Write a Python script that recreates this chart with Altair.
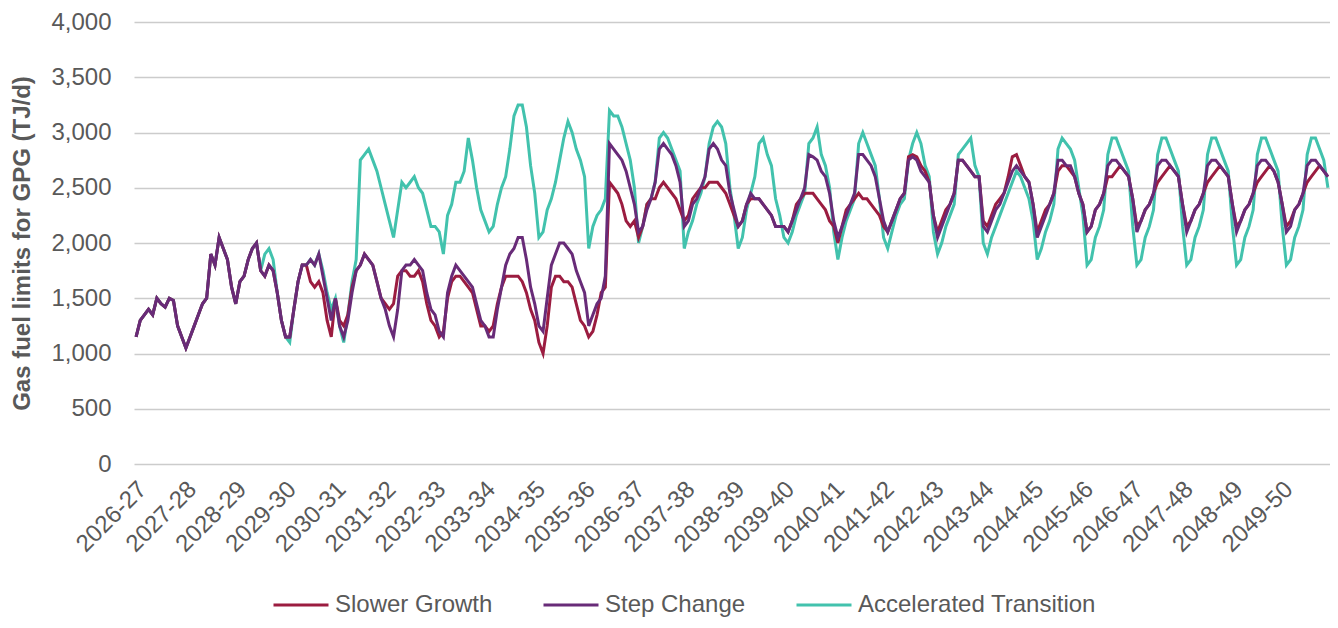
import altair as alt
import pandas as pd

FY_LABELS = ["2026-27", "2027-28", "2028-29", "2029-30", "2030-31", "2031-32",
             "2032-33", "2033-34", "2034-35", "2035-36", "2036-37", "2037-38",
             "2038-39", "2039-40", "2040-41", "2041-42", "2042-43", "2043-44",
             "2044-45", "2045-46", "2046-47", "2047-48", "2048-49", "2049-50"]

SERIES = ["Slower Growth", "Step Change", "Accelerated Transition"]
COLORS = ["#9B1C40", "#682B78", "#42C2AD"]

# Monthly readings (Jul..Jun) for each financial year, TJ/d
STEP_CHANGE = [
    [1150, 1300, 1350, 1400, 1350, 1500, 1450, 1420, 1500, 1480, 1250, 1150],
    [1050, 1150, 1250, 1350, 1450, 1500, 1900, 1800, 2050, 1950, 1850, 1600],
    [1450, 1650, 1700, 1850, 1950, 2000, 1750, 1700, 1800, 1750, 1550, 1300],
    [1150, 1150, 1400, 1650, 1800, 1800, 1850, 1800, 1900, 1700, 1500, 1300],
    [1500, 1250, 1150, 1300, 1550, 1750, 1800, 1900, 1850, 1800, 1650, 1500],
    [1400, 1250, 1150, 1400, 1750, 1800, 1800, 1850, 1800, 1750, 1550, 1400],
    [1350, 1200, 1150, 1550, 1700, 1800, 1750, 1700, 1650, 1600, 1450, 1300],
    [1250, 1150, 1150, 1400, 1600, 1800, 1900, 1950, 2050, 2050, 1850, 1600],
    [1450, 1250, 1200, 1500, 1800, 1900, 2000, 2000, 1950, 1900, 1750, 1650],
    [1550, 1250, 1350, 1450, 1500, 1700, 2900, 2850, 2800, 2750, 2650, 2500],
    [2350, 2100, 2150, 2300, 2400, 2550, 2850, 2900, 2850, 2800, 2700, 2550],
    [2150, 2200, 2350, 2400, 2500, 2600, 2850, 2900, 2850, 2750, 2700, 2450],
    [2300, 2150, 2200, 2350, 2450, 2400, 2400, 2350, 2300, 2250, 2150, 2150],
    [2150, 2100, 2200, 2300, 2400, 2500, 2800, 2780, 2750, 2650, 2600, 2450],
    [2200, 2050, 2150, 2250, 2350, 2450, 2800, 2800, 2750, 2700, 2600, 2400],
    [2200, 2100, 2200, 2300, 2400, 2450, 2750, 2780, 2750, 2650, 2600, 2550],
    [2250, 2050, 2150, 2250, 2350, 2450, 2750, 2750, 2700, 2650, 2600, 2600],
    [2150, 2100, 2200, 2300, 2350, 2450, 2550, 2650, 2700, 2650, 2600, 2550],
    [2350, 2050, 2150, 2250, 2350, 2450, 2750, 2750, 2700, 2700, 2600, 2450],
    [2350, 2100, 2150, 2300, 2350, 2450, 2700, 2750, 2750, 2700, 2650, 2600],
    [2400, 2100, 2200, 2300, 2350, 2450, 2700, 2750, 2750, 2700, 2650, 2600],
    [2350, 2100, 2200, 2300, 2350, 2450, 2700, 2750, 2750, 2700, 2650, 2600],
    [2350, 2100, 2200, 2300, 2350, 2450, 2700, 2750, 2750, 2700, 2650, 2550],
    [2350, 2100, 2150, 2300, 2350, 2450, 2700, 2750, 2750, 2700, 2650, 2600],
]

SLOWER_GROWTH = [
    [1150, 1300, 1350, 1400, 1350, 1500, 1450, 1420, 1500, 1480, 1250, 1150],
    [1050, 1150, 1250, 1350, 1450, 1500, 1900, 1800, 2050, 1950, 1850, 1600],
    [1450, 1650, 1700, 1850, 1950, 2000, 1750, 1700, 1800, 1750, 1550, 1300],
    [1150, 1150, 1400, 1650, 1800, 1800, 1650, 1600, 1650, 1550, 1300, 1150],
    [1500, 1300, 1250, 1350, 1600, 1750, 1800, 1900, 1850, 1800, 1650, 1500],
    [1450, 1400, 1450, 1700, 1750, 1750, 1700, 1700, 1750, 1650, 1450, 1300],
    [1250, 1150, 1200, 1500, 1650, 1700, 1700, 1650, 1600, 1550, 1400, 1250],
    [1250, 1200, 1250, 1450, 1600, 1700, 1700, 1700, 1700, 1650, 1550, 1400],
    [1300, 1100, 1000, 1250, 1600, 1700, 1700, 1650, 1650, 1600, 1450, 1300],
    [1250, 1150, 1200, 1350, 1550, 1600, 2550, 2500, 2450, 2350, 2200, 2150],
    [2200, 2050, 2150, 2350, 2400, 2400, 2500, 2550, 2500, 2450, 2400, 2300],
    [2200, 2250, 2400, 2450, 2500, 2500, 2550, 2550, 2550, 2500, 2450, 2350],
    [2250, 2150, 2200, 2350, 2400, 2400, 2400, 2350, 2300, 2250, 2150, 2150],
    [2150, 2100, 2200, 2350, 2400, 2450, 2450, 2450, 2400, 2350, 2300, 2200],
    [2150, 2000, 2150, 2300, 2350, 2400, 2450, 2400, 2400, 2350, 2300, 2250],
    [2150, 2100, 2200, 2300, 2400, 2450, 2780, 2800, 2780, 2700, 2650, 2550],
    [2250, 2100, 2200, 2300, 2350, 2450, 2750, 2750, 2700, 2650, 2600, 2600],
    [2200, 2150, 2250, 2350, 2400, 2450, 2600, 2780, 2800, 2700, 2600, 2550],
    [2350, 2100, 2200, 2300, 2350, 2450, 2650, 2700, 2700, 2650, 2600, 2450],
    [2350, 2100, 2150, 2300, 2350, 2450, 2600, 2600, 2650, 2700, 2650, 2600],
    [2400, 2150, 2200, 2300, 2350, 2450, 2550, 2600, 2650, 2700, 2650, 2600],
    [2350, 2150, 2200, 2300, 2350, 2450, 2550, 2600, 2650, 2700, 2650, 2600],
    [2350, 2150, 2200, 2300, 2350, 2450, 2550, 2600, 2650, 2700, 2650, 2550],
    [2350, 2150, 2200, 2300, 2350, 2450, 2550, 2600, 2650, 2700, 2650, 2600],
]

ACCELERATED = [
    [1150, 1300, 1350, 1400, 1350, 1500, 1450, 1420, 1500, 1480, 1250, 1150],
    [1050, 1150, 1250, 1350, 1450, 1500, 1900, 1800, 2050, 1950, 1850, 1600],
    [1450, 1650, 1700, 1850, 1950, 2000, 1750, 1900, 1950, 1850, 1550, 1300],
    [1150, 1100, 1400, 1650, 1800, 1800, 1850, 1800, 1900, 1750, 1550, 1400],
    [1500, 1250, 1100, 1350, 1650, 1850, 2750, 2800, 2850, 2750, 2650, 2500],
    [2350, 2200, 2050, 2300, 2550, 2500, 2550, 2600, 2500, 2450, 2300, 2150],
    [2150, 2100, 1900, 2250, 2350, 2550, 2550, 2650, 2950, 2750, 2500, 2300],
    [2200, 2100, 2150, 2350, 2500, 2600, 2850, 3150, 3250, 3250, 3050, 2700],
    [2450, 2050, 2100, 2300, 2400, 2550, 2750, 2950, 3100, 3000, 2850, 2750],
    [2600, 1950, 2150, 2250, 2300, 2400, 3200, 3150, 3150, 3050, 2900, 2750],
    [2500, 2000, 2150, 2350, 2400, 2550, 2950, 3000, 2950, 2850, 2750, 2650],
    [1950, 2100, 2200, 2350, 2450, 2600, 2900, 3050, 3100, 3050, 2900, 2500],
    [2250, 1950, 2050, 2300, 2450, 2600, 2900, 2950, 2800, 2700, 2400, 2250],
    [2050, 2000, 2100, 2250, 2350, 2450, 2900, 2950, 3050, 2800, 2700, 2500],
    [2100, 1850, 2050, 2200, 2300, 2400, 2900, 3000, 2900, 2800, 2700, 2400],
    [2050, 1950, 2100, 2250, 2350, 2400, 2750, 2900, 3000, 2900, 2700, 2600],
    [2100, 1900, 2000, 2150, 2250, 2350, 2800, 2850, 2900, 2950, 2700, 2600],
    [2000, 1900, 2050, 2150, 2250, 2350, 2450, 2550, 2650, 2600, 2500, 2400],
    [2200, 1850, 1950, 2100, 2200, 2350, 2850, 2950, 2900, 2850, 2750, 2500],
    [2250, 1800, 1850, 2050, 2150, 2300, 2800, 2950, 2950, 2850, 2750, 2650],
    [2150, 1800, 1850, 2050, 2150, 2300, 2800, 2950, 2950, 2850, 2750, 2650],
    [2150, 1800, 1850, 2050, 2150, 2300, 2800, 2950, 2950, 2850, 2750, 2650],
    [2150, 1800, 1850, 2050, 2150, 2300, 2800, 2950, 2950, 2850, 2750, 2650],
    [2150, 1800, 1850, 2050, 2150, 2300, 2800, 2950, 2950, 2850, 2750, 2500],
]


def to_frame(name, rows):
    recs = []
    for y, row in enumerate(rows):
        n = len(row)
        for m, v in enumerate(row):
            recs.append({"t": y + (m + 0.5) / n, "value": v, "series": name})
    return pd.DataFrame(recs)


df_sg = to_frame(SERIES[0], SLOWER_GROWTH)
df_sc = to_frame(SERIES[1], STEP_CHANGE)
df_at = to_frame(SERIES[2], ACCELERATED)

FONT = "Liberation Sans"
TXT = "#595959"
FS = 24
label_expr = "[" + ",".join("'%s'" % s for s in FY_LABELS) + "][datum.value]"

color = alt.Color(
    "series:N",
    scale=alt.Scale(domain=SERIES, range=COLORS),
    legend=alt.Legend(
        title=None, orient="none", direction="horizontal",
        legendX=138, legendY=554,
        symbolType="stroke", symbolSize=3025, symbolStrokeWidth=3,
        labelFontSize=FS, labelFont=FONT, labelColor=TXT, labelLimit=0,
        labelOffset=5, columnPadding=44, padding=0,
    ),
)

x = alt.X(
    "t:Q",
    scale=alt.Scale(domain=[0, 24], nice=False, zero=False),
    axis=alt.Axis(
        title=None, values=list(range(len(FY_LABELS))), labelExpr=label_expr,
        labelAngle=-45, labelAlign="right", labelBaseline="top",
        labelPadding=13, labelFontSize=FS, labelFont=FONT, labelColor=TXT,
        grid=False, ticks=False, domain=False, labelOverlap=False,
    ),
)
y = alt.Y(
    "value:Q",
    scale=alt.Scale(domain=[0, 4000], nice=False),
    axis=alt.Axis(
        title="Gas fuel limits for GPG (TJ/d)", values=list(range(0, 4001, 500)),
        format=",d", labelFontSize=FS, labelFont=FONT, labelColor=TXT,
        labelPadding=23, titleFontSize=FS, titleFont=FONT, titleColor=TXT,
        titleFontWeight="bold", titlePadding=16,
        grid=True, gridColor="#CCCCCC", gridWidth=1.6,
        ticks=False, domain=False,
    ),
)

def layer(df):
    return alt.Chart(df).mark_line(strokeWidth=3).encode(x=x, y=y, color=color)

chart = alt.layer(layer(df_at), layer(df_sg), layer(df_sc)).properties(
    width=1196, height=442,
    autosize=alt.AutoSizeParams(type="none"),
    padding={"left": 126, "top": 14, "right": 0, "bottom": 156},
).configure_view(stroke=None)

chart.save("out.html", embed_options={"renderer": "svg", "actions": False})
